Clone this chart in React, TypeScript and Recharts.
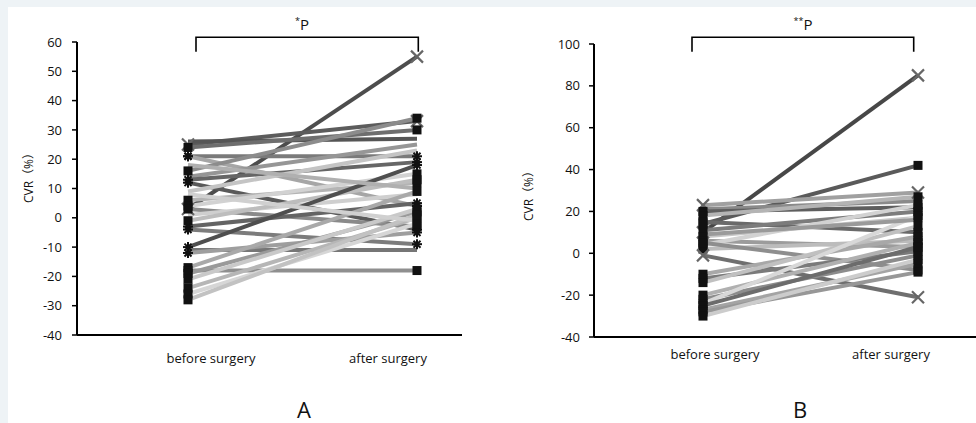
import React from 'react';
import { LineChart, Line, XAxis, YAxis } from 'recharts';

// ---------- data ----------
const categories = ['before surgery', 'after surgery'];

// Panel A (CVR %, before vs after surgery, one line per patient)
const beforeA = [3, 25, 26, 24, 21, 21, 16, 14, 13, 12, 9, 6, 4, 3, 1, -1, -3, -4, -10, -11, -12, -17, -18, -19, -21, -24, -26, -28, 18, 8];
const afterA = [55, 33, 27, 30, 21, 4, 34, 25, 19, -4, 23, 12, 15, -3, 8, 13, 5, -9, 18, -11, -5, 9, -18, 2, 3, 0, -2, 1, 10, -1];
const shadesA = ['#4d4d4d', '#5c5c5c', '#555555', '#6e6e6e', '#7a7a7a', '#a6a6a6', '#8c8c8c', '#969696', '#666666', '#5a5a5a', '#c4c4c4', '#b4b4b4', '#d2d2d2', '#8a8a8a', '#cfcfcf', '#bdbdbd', '#646464', '#7c7c7c', '#4f4f4f', '#767676', '#9e9e9e', '#a9a9a9', '#8f8f8f', '#9a9a9a', '#c9c9c9', '#b6b6b6', '#d6d6d6', '#c2c2c2', '#b0b0b0', '#d0d0d0'];
const markersA = ['x', 'x', 'none', 'square', 'star', 'star', 'square', 'none', 'star', 'star', 'none', 'square', 'square', 'square', 'none', 'square', 'star', 'star', 'star', 'none', 'star', 'square', 'square', 'square', 'square', 'square', 'square', 'square', 'none', 'none'];
const ticksA = [-40, -30, -20, -10, 0, 10, 20, 30, 40, 50, 60];

// Panel B
const beforeB = [10, 14, 23, 21, 20, 18, 15, 11, 8, 6, 4, 2, -1, 5, -10, -12, -14, -20, -22, -24, -25, -27, -28, -30, 9];
const afterB = [85, 42, 29, 25, 22, 27, 10, 20, 17, 3, 23, 6, -21, -8, 8, 1, 13, 5, -1, 18, 3, -5, -9, -3, 16];
const shadesB = ['#474747', '#5a5a5a', '#a0a0a0', '#8a8a8a', '#5e5e5e', '#b4b4b4', '#6a6a6a', '#7c7c7c', '#c8c8c8', '#9c9c9c', '#d2d2d2', '#bcbcbc', '#6f6f6f', '#8e8e8e', '#a8a8a8', '#7a7a7a', '#c0c0c0', '#b0b0b0', '#8c8c8c', '#d8d8d8', '#6c6c6c', '#a4a4a4', '#979797', '#cccccc', '#9a9a9a'];
const markersB = ['x', 'square', 'x', 'none', 'square', 'square', 'square', 'square', 'square', 'square', 'square', 'square', 'x', 'square', 'square', 'square', 'square', 'square', 'square', 'square', 'square', 'square', 'square', 'square', 'none'];
const ticksB = [-40, -20, 0, 20, 40, 60, 80, 100];

const yLabel = 'CVR（%）';
const sigA = '*';
const sigB = '**';
const panelNames = ['A', 'B'];

// ---------- helpers ----------
const FONT = '"Open Sans", "Noto Sans CJK SC", sans-serif';

const buildRows = (before: number[], after: number[]) =>
  categories.map((c, i) => {
    const row: Record<string, any> = { name: c };
    before.forEach((b, k) => {
      row['s' + k] = i === 0 ? b : after[k];
    });
    return row;
  });

const makeDot = (kind: string) => (props: any) => {
  const { cx, cy, index } = props;
  const key = `d-${index}-${cx}-${cy}`;
  if (cx == null || cy == null) return <g key={key} />;
  if (kind === 'square') {
    return <rect key={key} x={cx - 4.5} y={cy - 4.5} width={9} height={9} fill="#111" />;
  }
  if (kind === 'x') {
    return (
      <g key={key} stroke="#666" strokeWidth={2.2}>
        <line x1={cx - 6} y1={cy - 6} x2={cx + 6} y2={cy + 6} />
        <line x1={cx - 6} y1={cy + 6} x2={cx + 6} y2={cy - 6} />
      </g>
    );
  }
  if (kind === 'star') {
    return (
      <g key={key} stroke="#111" strokeWidth={2}>
        <line x1={cx - 5} y1={cy} x2={cx + 5} y2={cy} />
        <line x1={cx} y1={cy - 5} x2={cx} y2={cy + 5} />
        <line x1={cx - 3.5} y1={cy - 3.5} x2={cx + 3.5} y2={cy + 3.5} />
        <line x1={cx - 3.5} y1={cy + 3.5} x2={cx + 3.5} y2={cy - 3.5} />
      </g>
    );
  }
  return <g key={key} />;
};

const makeTick = (shifts: number[]) => (props: any) => {
  const { x, y, payload, index } = props;
  return (
    <text x={x + shifts[index]} y={y} dy="0.71em" textAnchor="middle" fontSize={13} fontFamily={FONT} fill="#111">
      {payload.value}
    </text>
  );
};

type PanelProps = {
  before: number[];
  after: number[];
  shades: string[];
  markers: string[];
  ticks: number[];
  yAxisWidth: number;
  margin: { top: number; right: number; bottom: number; left: number };
  padding: { left: number; right: number };
  labelShifts: number[];
  tickMarginX: number;
  tickMarginY: number;
};

const Panel = (p: PanelProps) => {
  const rows = buildRows(p.before, p.after);
  return (
    <LineChart width={488} height={423} data={rows} margin={p.margin}>
      <XAxis
        dataKey="name"
        type="category"
        height={30}
        padding={p.padding}
        axisLine={{ stroke: '#000', strokeWidth: 2 }}
        tickLine={false}
        tickSize={0}
        tickMargin={p.tickMarginX}
        interval={0}
        tick={makeTick(p.labelShifts)}
      />
      <YAxis
        type="number"
        width={p.yAxisWidth}
        domain={[p.ticks[0], p.ticks[p.ticks.length - 1]]}
        ticks={p.ticks}
        interval={0}
        axisLine={{ stroke: '#000', strokeWidth: 2 }}
        tickLine={{ stroke: '#000', strokeWidth: 1.5 }}
        tickSize={5}
        tickMargin={p.tickMarginY}
        tick={{ fontSize: 13, fontFamily: FONT, fill: '#111' }}
      />
      {p.before.map((_, k) => (
        <Line
          key={k}
          type="linear"
          dataKey={'s' + k}
          stroke={p.shades[k]}
          strokeWidth={4}
          dot={makeDot(p.markers[k])}
          activeDot={false}
          isAnimationActive={false}
        />
      ))}
    </LineChart>
  );
};

export default function App() {
  return (
    <div style={{ position: 'absolute', left: 0, top: 0, width: 976, height: 423, background: '#eef3f6', overflow: 'hidden' }}>
      <div style={{ position: 'absolute', left: 8, top: 7, right: 0, bottom: 0, background: '#fff' }} />
      <div style={{ position: 'absolute', left: 0, top: 0 }}>
        <Panel
          before={beforeA}
          after={afterA}
          shades={shadesA}
          markers={markersA}
          ticks={ticksA}
          yAxisWidth={77}
          margin={{ top: 42, right: 26, bottom: 58, left: 0 }}
          padding={{ left: 111, right: 45 }}
          labelShifts={[23, -29]}
          tickMarginX={19}
          tickMarginY={10}
        />
      </div>
      <div style={{ position: 'absolute', left: 488, top: 0 }}>
        <Panel
          before={beforeB}
          after={afterB}
          shades={shadesB}
          markers={markersB}
          ticks={ticksB}
          yAxisWidth={106}
          margin={{ top: 44, right: 0, bottom: 56, left: 0 }}
          padding={{ left: 109, right: 58 }}
          labelShifts={[12, -27]}
          tickMarginX={13}
          tickMarginY={9}
        />
      </div>
      <svg width={976} height={423} style={{ position: 'absolute', left: 0, top: 0, pointerEvents: 'none' }}>
        <g fontFamily={FONT} fill="#111">
          <path d="M196 51.7 V37.3 H418.3 V51.7" stroke="#000" strokeWidth={1.6} fill="none" />
          <path d="M692 51.7 V37.3 H913.7 V51.7" stroke="#000" strokeWidth={1.6} fill="none" />
          <text x={302} y={30} textAnchor="middle" fontSize={15}>
            <tspan fontSize={9} dy={-6}>{sigA}</tspan>
            <tspan dy={6}>P</tspan>
          </text>
          <text x={803} y={30} textAnchor="middle" fontSize={15}>
            <tspan fontSize={9} dy={-6}>{sigB}</tspan>
            <tspan dy={6}>P</tspan>
          </text>
          <text transform="translate(28,175) rotate(-90)" textAnchor="middle" dominantBaseline="central" fontSize={12}>
            {yLabel}
          </text>
          <text transform="translate(528,193) rotate(-90)" textAnchor="middle" dominantBaseline="central" fontSize={12}>
            {yLabel}
          </text>
          <text x={304} y={418} textAnchor="middle" fontSize={22}>{panelNames[0]}</text>
          <text x={800} y={418} textAnchor="middle" fontSize={22}>{panelNames[1]}</text>
        </g>
      </svg>
    </div>
  );
}
